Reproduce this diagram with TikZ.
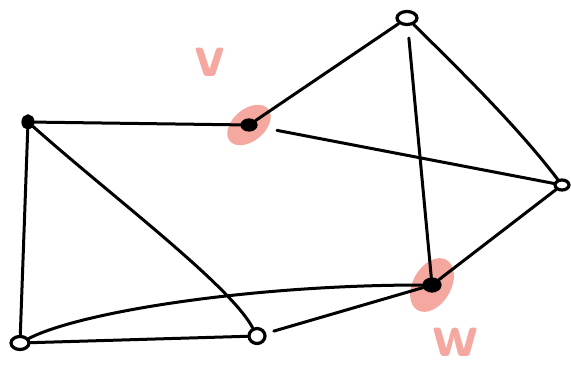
\documentclass[tikz,border=0pt]{standalone}
\usepackage{tikz}
\usetikzlibrary{
	shapes.geometric,
	backgrounds
}
\definecolor{Blush}{RGB}{245,168,160}

\begin{document}
\begin{tikzpicture}[x=1pt, y=-1pt,
		vert/.style={draw, ellipse, line width=3.2pt, fill=white, minimum width=14pt, minimum height=10pt, inner sep=0pt},
		blob/.style={vert, fill=black},
		edge/.style={line width=3pt, line cap=round},
		mark label/.style={text=Blush, font=\sffamily\bfseries\fontsize{62}{62}\selectfont}]
		\useasboundingbox (0,0) rectangle (571,369);
		\node[blob, minimum width=10pt, minimum height=12pt] (a) at (28,122) {};
		\node[blob] (v) at (249,125) {};
		\node[vert, minimum width=20pt, minimum height=13pt] (t) at (407,18) {};
		\node[vert] (r) at (562,185) {};
		\node[blob, minimum width=16pt, minimum height=12pt] (w) at (432,285) {};
		\node[vert, minimum width=18pt, minimum height=13pt] (bl) at (20,343) {};
		\node[vert, minimum width=16pt, minimum height=15pt] (bm) at (257,336) {};
		\draw[edge] (a) -- (v);
		\draw[edge] (a) -- (bl);
		\draw[edge] (a) .. controls (110,195) and (230,285) .. (bm);
		\draw[edge] (v) -- (t);
		\draw[edge, shorten <=20pt] (v) -- (r);
		\draw[edge, shorten <=12pt] (t) -- (w);
		\draw[edge] (t) .. controls (470,80) and (520,130) .. (r);
		\draw[edge] (w) -- (r);
		\draw[edge] (bl) .. controls (80,312) and (250,285) .. (w);
		\draw[edge] (bl) -- (bm);
		\draw[edge, shorten <=8pt] (bm) -- (w);
		\begin{scope}[on background layer]
			\fill[Blush, rotate around={40:(v)}] (v) ellipse [x radius=25pt, y radius=16pt];
			\fill[Blush, rotate around={60:(w)}] (w) ellipse [x radius=29pt, y radius=19pt];
		\end{scope}
		\node[mark label] (vlab) at (210,62) {v};
		\node[mark label] (wlab) at (456,342) {w};
	\end{tikzpicture}
\end{document}
